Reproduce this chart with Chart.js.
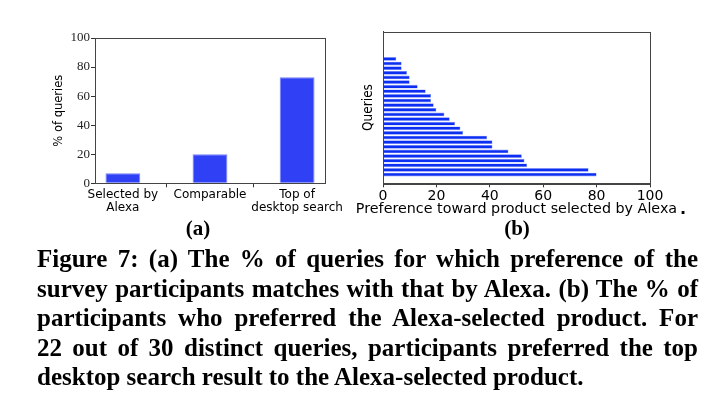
<!DOCTYPE html>
<html lang="en">
  <head>
    <meta charset="UTF-8" />
    <title>Figure 7</title>
    <script src="https://cdn.jsdelivr.net/npm/chart.js"></script>
    <style>
      body { margin: 0; background: #fff; width: 710px; height: 398px; position: relative; overflow: hidden; }
      canvas { position: absolute; }
      .sub { position: absolute; font: bold 21px "Liberation Serif", serif; transform: translateX(-50%); }
      #xtitle-b { position: absolute; left: 516.5px; top: 200px; transform: translateX(-50%);
        font: 14.3px "DejaVu Sans", sans-serif; white-space: nowrap; }
      #caption { position: absolute; left: 37px; top: 244px; width: 661px;
        font: bold 25px/29.6px "Liberation Serif", serif; color: #000; }
      #caption div { white-space: nowrap; text-align: justify; text-align-last: justify; }
      #caption div.last { text-align-last: left; }
    </style>
  </head>
  <body>
    <canvas id="chart-a" width="315" height="220" style="left:45px;top:0"></canvas>
    <canvas id="chart-b" width="360" height="222" style="left:350px;top:0"></canvas>
    <span id="xtitle-b">Preference toward product selected by Alexa</span>
    <span class="sub" style="left:198px;top:216px">(a)</span>
    <span class="sub" style="left:517px;top:216px">(b)</span>
    <span style="position:absolute;left:680px;top:199px;font:bold 16px 'DejaVu Sans',sans-serif">.</span>
    <div id="caption">
      <div>Figure 7: (a) The % of queries for which preference of the</div>
      <div>survey participants matches with that by Alexa. (b) The % of</div>
      <div>participants who preferred the Alexa-selected product. For</div>
      <div>22 out of 30 distinct queries, participants preferred the top</div>
      <div class="last">desktop search result to the Alexa-selected product.</div>
    </div>

    <script>
      // (a) who matched the participants' choice
      const choiceLabels = [["Selected by", "Alexa"], "Comparable", ["Top of", "desktop search"]];
      const pctQueries = [7, 20, 73];
      const pctTicks = [0, 20, 40, 60, 80, 100];

      // (b) preference toward Alexa product per query, bottom query first
      const queryPref = [80, 77, 54, 53, 52, 47, 41, 41, 39, 30, 29, 27, 25, 23, 20, 19,
                         18, 18, 16, 13, 10, 10, 9, 7, 7, 5, 0, 0, 0, 0];
      const prefTicks = [0, 20, 40, 60, 80, 100];

      Chart.defaults.font.family = "'DejaVu Sans', sans-serif";
      Chart.defaults.color = "#000";

      // box around the plot, like matplotlib spines
      const frame = {
        id: "frame",
        afterDatasetsDraw(chart) {
          const a = chart.chartArea, ctx = chart.ctx;
          ctx.save();
          ctx.strokeStyle = "#444";
          ctx.lineWidth = 1;
          ctx.strokeRect(Math.round(a.left) + 0.5, Math.round(a.top) + 0.5,
                         Math.round(a.right - a.left), Math.round(a.bottom - a.top));
          ctx.restore();
        }
      };

      new Chart(document.getElementById("chart-a"), {
        type: "bar",
        data: {
          datasets: [{
            data: pctQueries.map((v, i) => ({ x: i, y: v })),
            backgroundColor: "#3040f4",
            borderColor: "#7583f7",
            borderWidth: 1,
            barPercentage: 0.4,
            categoryPercentage: 1
          }]
        },
        options: {
          responsive: false,
          animation: false,
          devicePixelRatio: 1,
          layout: { padding: { top: 38, right: 35, left: 0, bottom: 0 } },
          plugins: { legend: { display: false }, tooltip: { enabled: false } },
          scales: {
            x: {
              type: "linear",
              offset: false,
              min: -0.32,
              max: 2.32,
              afterBuildTicks: (s) => { s.ticks = choiceLabels.map((_, i) => ({ value: i })); },
              afterFit: (s) => { s.height = 36.7; },
              ticks: {
                callback: (v) => choiceLabels[v],
                font: { size: 12, lineHeight: 1.1 },
                padding: 1,
                autoSkip: false,
                maxRotation: 0
              },
              grid: { drawOnChartArea: false, tickLength: 4, color: "#333" },
              border: { color: "#444" }
            },
            y: {
              min: 0,
              max: 100,
              afterBuildTicks: (s) => { s.ticks = pctTicks.map((v) => ({ value: v })); },
              afterFit: (s) => { s.width = 50; },
              ticks: { font: { family: "'Liberation Serif', serif", size: 13 }, padding: 1, color: "#222" },
              grid: { drawOnChartArea: false, tickLength: 4, color: "#333" },
              border: { color: "#444" },
              title: { display: true, text: "% of queries", font: { size: 11.5 }, padding: { top: 7, bottom: 0 } }
            }
          }
        },
        plugins: [frame]
      });

      new Chart(document.getElementById("chart-b"), {
        type: "bar",
        data: {
          datasets: [{
            data: queryPref.map((v, i) => ({ x: v, y: i })),
            backgroundColor: "#0b2ef2",
            borderColor: "#8494f6",
            borderWidth: 0.6,
            barPercentage: 0.8,
            categoryPercentage: 1
          }]
        },
        options: {
          indexAxis: "y",
          responsive: false,
          animation: false,
          devicePixelRatio: 1,
          layout: { padding: { top: 31.7, right: 60, left: 0, bottom: 0 } },
          plugins: { legend: { display: false }, tooltip: { enabled: false } },
          scales: {
            x: {
              type: "linear",
              min: 0,
              max: 100,
              afterBuildTicks: (s) => { s.ticks = prefTicks.map((v) => ({ value: v })); },
              afterFit: (s) => { s.height = 38.7; },
              ticks: { font: { size: 14 }, padding: 1 },
              grid: { drawOnChartArea: false, tickLength: 4, color: "#333" },
              border: { color: "#444" }
            },
            y: {
              type: "linear",
              offset: false,
              min: -1.89,
              max: 30.89,
              afterFit: (s) => { s.width = 33; },
              ticks: { display: false },
              grid: { display: false },
              border: { color: "#444" },
              title: {
                display: true,
                text: "Queries",
                font: { family: "'DejaVu Sans Condensed', 'DejaVu Sans', sans-serif", size: 13.5 },
                padding: { top: 10, bottom: 0 }
              }
            }
          }
        },
        plugins: [frame]
      });
    </script>
  </body>
</html>
